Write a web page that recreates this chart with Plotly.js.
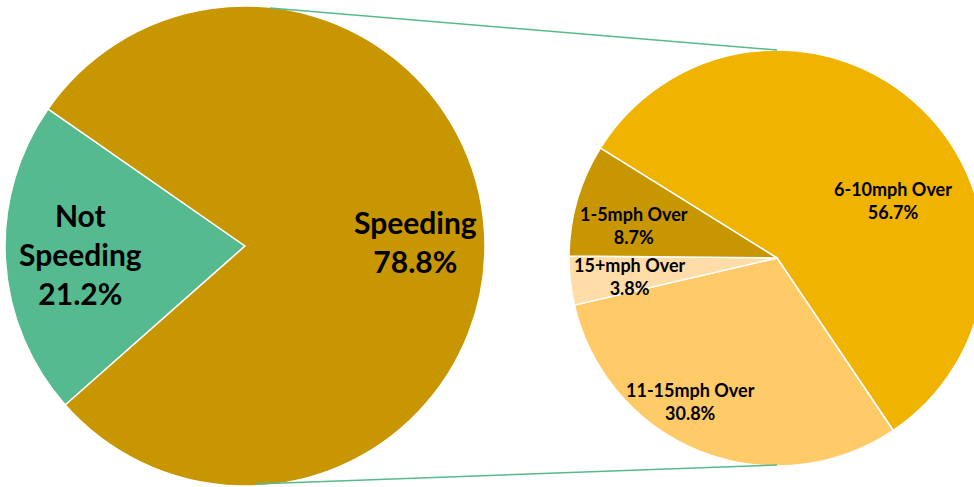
<!DOCTYPE html>
<html>
<head>
<meta charset="utf-8">
<script src="https://cdn.plot.ly/plotly-3.0.1.min.js"></script>
<style>
html,body{margin:0;padding:0;overflow:hidden;background:#fff;width:974px;height:487px;}
#chart{width:990px;height:487px;}
</style>
</head>
<body>
<div id="chart"></div>
<script>
// ---- data ----
var mainLabels = ["Not Speeding", "Speeding"];
var mainValues = [21.2, 78.8];
var subLabels = ["6-10mph Over", "11-15mph Over", "15+mph Over", "1-5mph Over"];
var subValues = [56.7, 30.8, 3.8, 8.7];

// ---- styles ----
var mainColors = ["#55BA8F", "#C89600"];
var subColors = ["#EFB300", "#FFCA68", "#FFDCA8", "#C89600"];
var W = 990, H = 487;
function px(x, y) { return {x: x / W, y: 1 - y / H}; }

var font = "Lato, 'Liberation Sans', sans-serif";

var traces = [
  {
    type: "pie", labels: mainLabels, values: mainValues, sort: false,
    direction: "clockwise", rotation: 228.5,
    marker: {colors: mainColors, line: {color: "#ffffff", width: 1.5}},
    textinfo: "none", hoverinfo: "label+percent",
    domain: {x: [5 / W, 485 / W], y: [1 / H, 481 / H]}
  },
  {
    type: "pie", labels: subLabels, values: subValues, sort: false,
    direction: "clockwise", rotation: -58.1,
    marker: {colors: subColors, line: {color: "#ffffff", width: 1.5}},
    textinfo: "none", hoverinfo: "label+percent",
    domain: {x: [569 / W, 985 / W], y: [21 / H, 437 / H]}
  }
];

function lab(text, p, size) {
  var q = px(p[0], p[1]);
  return {xref: "paper", yref: "paper", x: q.x, y: q.y, text: text, showarrow: false,
    xanchor: "center", yanchor: "middle", align: "center",
    font: {family: font, size: size, color: "#000000", weight: "bold"}};
}
function fmt(l, v) { return "<b>" + l + "<br>" + v.toFixed(1) + "%</b>"; }

var annotations = [
  lab("<b>Not<br>Speeding<br>" + mainValues[0].toFixed(1) + "%</b>", [80, 254], 30),
  lab(fmt(mainLabels[1], mainValues[1]), [415, 242], 30),
  lab(fmt(subLabels[0], subValues[0]), [893, 200], 18),
  lab(fmt(subLabels[1], subValues[1]), [690, 401], 18),
  lab(fmt(subLabels[2], subValues[2]), [630, 276], 18),
  lab(fmt(subLabels[3], subValues[3]), [634, 225], 18)
];

var a = px(270, 8), b = px(777, 50), c = px(255, 484), d = px(777, 465);
var shapes = [
  {type: "line", xref: "paper", yref: "paper", x0: a.x, y0: a.y, x1: b.x, y1: b.y, line: {color: "#55BA8F", width: 1.5}},
  {type: "line", xref: "paper", yref: "paper", x0: c.x, y0: c.y, x1: d.x, y1: d.y, line: {color: "#55BA8F", width: 1.5}}
];

var layout = {
  width: W, height: H,
  margin: {l: 0, r: 0, t: 0, b: 0},
  paper_bgcolor: "#ffffff",
  showlegend: false,
  annotations: annotations,
  shapes: shapes
};
Plotly.newPlot("chart", traces, layout, {displayModeBar: false, staticPlot: true});
</script>
</body>
</html>
